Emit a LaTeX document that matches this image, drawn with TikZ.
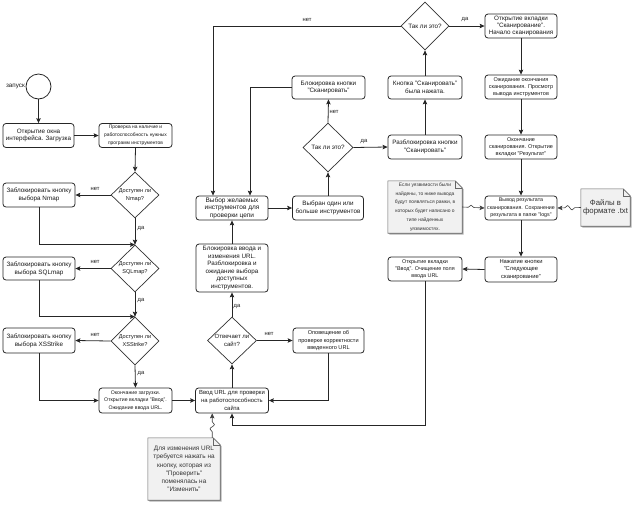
\documentclass[tikz,border=0pt]{standalone}
\usepackage{fontspec}
\setmainfont{Liberation Sans}
\usetikzlibrary{arrows.meta,shapes.geometric,decorations.pathmorphing,backgrounds,calc}
\definecolor{notefillc}{HTML}{F1F1F1}
\definecolor{notedrawc}{HTML}{666666}
\newcommand\drawnote[1]{%
  \begin{scope}[on background layer]
    \fill[black!30] ([xshift=1.5pt,yshift=-1.5pt]#1.north west) -- ([xshift=-5.5pt,yshift=-1.5pt]#1.north east) -- ([xshift=1.5pt,yshift=-8.5pt]#1.north east) -- ([xshift=1.5pt,yshift=-1.5pt]#1.south east) -- ([xshift=1.5pt,yshift=-1.5pt]#1.south west) -- cycle;
    \filldraw[fill=notefillc, draw=notedrawc, line width=0.6pt] (#1.north west) -- ([xshift=-7pt]#1.north east) -- ([yshift=-7pt]#1.north east) -- (#1.south east) -- (#1.south west) -- cycle;
    \draw[draw=notedrawc, line width=0.6pt] ([xshift=-7pt]#1.north east) -- ([xshift=-7pt,yshift=-7pt]#1.north east) -- ([yshift=-7pt]#1.north east);
  \end{scope}}
\tikzset{
  ln/.style={draw=black!85, line width=0.8pt},
  arr/.style={ln, -{Stealth[length=5pt,width=4.5pt,inset=1pt]}},
  box/.style={draw=black!85, line width=0.8pt, rounded corners=3pt, fill=white, align=center, inner sep=0pt, text=black!90, font=\fontsize{6.3}{7.8}\selectfont},
  sbox/.style={box, font=\fontsize{5.2}{7.6}\selectfont},
  dia/.style={diamond, draw=black!80, line width=0.7pt, fill=white, align=center, inner sep=0pt, text=black!90, font=\fontsize{5.6}{8}\selectfont},
  lbl/.style={font=\fontsize{5.8}{7}\selectfont, inner sep=0pt, text=black!90},
  notetext/.style={align=center, inner sep=0pt, text=black!80},
  wavy/.style={draw=black!75, line width=0.6pt, decorate, decoration={snake, amplitude=2.2pt, segment length=9pt, pre length=6pt, post length=7pt}, -{Stealth[length=5pt,width=4.5pt,inset=1pt]}},
}
\begin{document}
\begin{tikzpicture}[x=1pt,y=-1pt]
\useasboundingbox (0,0) rectangle (634,507);

% start
\node[circle, draw=black!85, line width=0.8pt, minimum size=25pt, inner sep=0pt] (start) at (38.5,86.5) {};
\node[lbl, anchor=east, font=\fontsize{6.3}{7}\selectfont] (startlbl) at ([xshift=-0.5pt]start.west) {запуск};

% left column
\node[box, minimum width=71pt, minimum height=24pt] (bopen) at (38.5,135.5) {Открытие окна\\интерфейса. Загрузка};
\node[sbox, minimum width=73pt, minimum height=24pt, font=\fontsize{4.9}{7.8}\selectfont] (bcheck) at (135.5,135.5) {Проверка на наличие и\\работоспособность нужных\\программ инструментов};
\node[dia, minimum width=48pt, minimum height=46pt] (dnmap) at (135,195) {Доступен ли\\Nmap?};
\node[box, minimum width=72pt, minimum height=24pt] (bnmap) at (39,195) {Заблокировать кнопку\\выбора Nmap};
\node[dia, minimum width=48pt, minimum height=47pt] (dsql) at (135,268.5) {Доступен ли\\SQLmap?};
\node[box, minimum width=72pt, minimum height=23pt] (bsql) at (39,268.5) {Заблокировать кнопку\\выбора SQLmap};
\node[dia, minimum width=48pt, minimum height=48pt] (dxss) at (135,341) {Доступен ли\\XSStrike?};
\node[box, minimum width=72pt, minimum height=25pt] (bxss) at (39,340.5) {Заблокировать кнопку\\выбора XSStrike};
\node[sbox, minimum width=73pt, minimum height=25pt] (bdone) at (135.5,400.5) {Окончание загрузки.\\Открытие вкладки "Ввод".\\Ожидание ввода URL.};

% middle column
\node[box, minimum width=73pt, minimum height=25pt, font=\fontsize{5.9}{7.8}\selectfont] (burl) at (232,400.5) {Ввод URL для проверки\\на работоспособность\\сайта};
\node[dia, minimum width=49pt, minimum height=47pt, font=\fontsize{6}{8}\selectfont] (dresp) at (232,340.5) {Отвечает ли\\сайт?};
\node[box, minimum width=71pt, minimum height=25pt, font=\fontsize{5.6}{7.8}\selectfont] (bnotify) at (328.5,340.5) {Оповещение об\\проверке корректности\\введенного URL};
\node[box, minimum width=72pt, minimum height=48pt, font=\fontsize{6.3}{7.6}\selectfont] (block) at (232,268) {Блокировка ввода и\\изменения URL.\\Разблокировка и\\ожидание выбора\\доступных\\инструментов.};
\node[box, minimum width=72pt, minimum height=24pt, font=\fontsize{6.5}{7.4}\selectfont] (bchoose) at (232,208) {Выбор желаемых\\инструментов для\\проверки цепи};
\node[box, minimum width=71pt, minimum height=24pt] (bchosen) at (328,208) {Выбран один или\\больше инструментов};
\node[dia, minimum width=50pt, minimum height=49pt, font=\fontsize{6.3}{8}\selectfont] (dso1) at (328,147.5) {Так ли это?};
\node[box, minimum width=73pt, minimum height=23pt] (bblock) at (328.5,87.5) {Блокировка кнопки\\"Сканировать"};

% right-middle column
\node[box, minimum width=74pt, minimum height=24pt] (bunblock) at (425,147) {Разблокировка кнопки\\"Сканировать"};
\node[box, minimum width=74pt, minimum height=23pt] (bpressed) at (425,87.5) {Кнопка "Сканировать"\\была нажата.};
\node[dia, minimum width=48pt, minimum height=48pt, font=\fontsize{6.3}{8}\selectfont] (dso2) at (425,26) {Так ли это?};
\node[sbox, minimum width=74pt, minimum height=24pt, font=\fontsize{5.4}{7}\selectfont] (binput) at (425,269) {Открытие вкладки\\"Ввод". Очищение поля\\ввода URL};

% right column
\node[box, minimum width=72pt, minimum height=24pt, font=\fontsize{6.3}{7.4}\selectfont] (bscan) at (521,26) {Открытие вкладки\\"Сканирование".\\Начало сканирования};
\node[sbox, minimum width=72pt, minimum height=24pt, font=\fontsize{5.5}{7.3}\selectfont] (bwait) at (521,87) {Ожидание окончания\\сканирования. Просмотр\\вывода инструментов};
\node[sbox, minimum width=72pt, minimum height=24pt, font=\fontsize{5.5}{7.3}\selectfont] (bend) at (521,147) {Окончание\\сканирования. Открытие\\вкладки "Результат"};
\node[sbox, minimum width=72pt, minimum height=24pt, font=\fontsize{5.3}{7.3}\selectfont] (bout) at (521,208) {Вывод результата\\сканирования. Сохранение\\результата в папке "logs"};
\node[sbox, minimum width=72pt, minimum height=25pt, font=\fontsize{5.8}{7.3}\selectfont] (bnext) at (521,269.5) {Нажатие кнопки\\"Следующее\\сканирование"};

% notes
\node[notetext, minimum width=74pt, minimum height=52pt, font=\fontsize{4.9}{8.8}\selectfont] (nvuln) at (425,207) {Если уязвимости были\\найдены, то ниже вывода\\будут появляться рамки, в\\которых будет написано о\\типе найденных\\уязвимостях.};
\drawnote{nvuln}
\node[notetext, minimum width=49pt, minimum height=37pt, font=\fontsize{7.8}{8.6}\selectfont] (ntxt) at (605.5,207.5) {Файлы в\\формате .txt};
\drawnote{ntxt}
\node[notetext, minimum width=72pt, minimum height=62pt, font=\fontsize{6.4}{8.3}\selectfont] (nurl) at (184,469) {Для изменения URL\\требуется нажать на\\кнопку, которая из\\"Проверить"\\поменялась на\\"Изменить"};
\drawnote{nurl}

% connectors: left column
\draw[arr] (start.south) -- (bopen.north);
\draw[arr] (bopen.east) -- (bcheck.west);
\draw[arr] (bcheck.south) -- (dnmap.north);
\draw[arr] (dnmap.west) -- (bnmap.east);
\node[lbl] (l1) at (95,189) {нет};
\draw[arr] (dnmap.south) -- (dsql.north);
\node[lbl] (l2) at (141,229) {да};
\draw[arr] (bnmap.south) |- (dsql.north);
\draw[arr] (dsql.west) -- (bsql.east);
\node[lbl] (l3) at (95,262) {нет};
\draw[arr] (dsql.south) -- (dxss.north);
\node[lbl] (l4) at (141,301) {да};
\draw[arr] (bsql.south) |- (dxss.north);
\draw[arr] (dxss.west) -- (bxss.east);
\node[lbl] (l5) at (95,335) {нет};
\draw[arr] (dxss.south) -- (bdone.north);
\node[lbl] (l6) at (141,374) {да};
\draw[arr] (bxss.south) |- (bdone.west);
\draw[arr] (bdone.east) -- (burl.west);

% middle
\draw[arr] (burl.north) -- (dresp.south);
\draw[arr] (dresp.north) -- (block.south);
\node[lbl] (l7) at (237,307) {да};
\draw[arr] (dresp.east) -- (bnotify.west);
\node[lbl] (l8) at (269,334) {нет};
\draw[arr] (bnotify.south) |- (burl.east);
\draw[arr] (block.north) -- (bchoose.south);
\draw[arr] (bchoose.east) -- (bchosen.west);
\draw[arr] (bchosen.north) -- (dso1.south);
\draw[arr] (dso1.north) -- (bblock.south);
\node[lbl] (l9) at (334,112) {нет};
\draw[arr] (bblock.west) -| ([xshift=18pt]bchoose.north);
\draw[arr] (dso1.east) -- (bunblock.west);
\node[lbl] (l10) at (364,142) {да};
\draw[arr] (bunblock.north) -- (bpressed.south);
\draw[arr] (bpressed.north) -- (dso2.south);
\draw[arr] (dso2.west) -| ([xshift=-19pt]bchoose.north);
\node[lbl] (l11) at (307,20) {нет};
\draw[arr] (dso2.east) -- (bscan.west);
\node[lbl] (l12) at (465,20) {да};

% right column
\draw[arr] (bscan.south) -- (bwait.north);
\draw[arr] (bwait.south) -- (bend.north);
\draw[arr] (bend.south) -- (bout.north);
\draw[arr] (bout.south) -- (bnext.north);
\draw[arr] (bnext.west) -- (binput.east);
\coordinate (loopc) at (425,425);
\draw[arr] (binput.south) -- (loopc) -| (burl.south);

% note links
\draw[wavy] (nvuln.east) -- (bout.west);
\draw[wavy] (ntxt.west) -- (bout.east);
\coordinate (nurltop) at ([xshift=-8pt]nurl.north east);
\draw[wavy] (nurltop) -- (nurltop |- burl.south);
\end{tikzpicture}
\end{document}
